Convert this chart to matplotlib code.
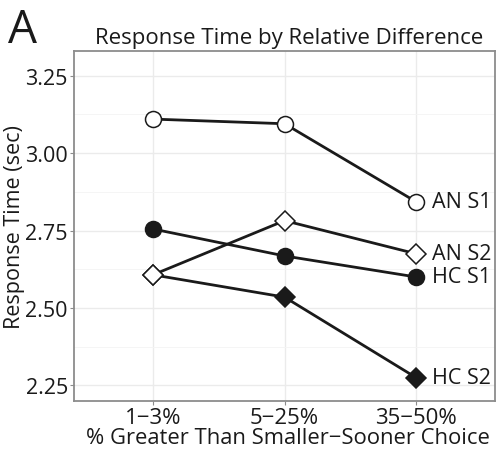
import matplotlib
matplotlib.use("Agg")
import matplotlib.pyplot as plt
from matplotlib.ticker import MultipleLocator

plt.rcParams['font.family'] = ['Open Sans', 'DejaVu Sans']

categories = ["1\u22123%", "5\u221225%", "35\u221250%"]
series_names = ["AN S1", "AN S2", "HC S1", "HC S2"]
an_s1 = [3.11, 3.095, 2.843]
an_s2 = [2.607, 2.782, 2.675]
hc_s1 = [2.755, 2.668, 2.600]
hc_s2 = [2.607, 2.535, 2.275]
y_ticks = [2.25, 2.50, 2.75, 3.00, 3.25]

fig = plt.figure(figsize=(4.97, 4.52), dpi=100)
ax = fig.add_axes([0.149, 0.111, 0.847, 0.774])

x = list(range(1, len(categories) + 1))
styles = {
    "AN S1": (an_s1, 'o', 'white', 6),
    "AN S2": (an_s2, 'D', 'white', 5),
    "HC S1": (hc_s1, 'o', '#1a1a1a', 4),
    "HC S2": (hc_s2, 'D', '#1a1a1a', 3),
}
for name in series_names:
    vals, m, fc, z = styles[name]
    ax.plot(x, vals, color='#1a1a1a', lw=2.0, marker=m,
            markersize=11.5 if m == 'o' else 10.5,
            markerfacecolor=fc, markeredgecolor='#1a1a1a', markeredgewidth=1.1, zorder=z)
    ax.annotate(name, (x[-1], vals[-1]), xytext=(11.5, 0), textcoords='offset points',
                va='center', ha='left', fontsize=15.5, color='#1a1a1a')

ax.set_xlim(0.4, 3.6)
ax.set_ylim(2.20, 3.33)
ax.set_xticks(x)
ax.set_xticklabels(categories, fontsize=16)
ax.set_yticks(y_ticks)
ax.set_yticklabels([f"{v:.2f}" for v in y_ticks], fontsize=15.5)
ax.yaxis.set_minor_locator(MultipleLocator(0.125))
ax.grid(True, which='major', color='#ebebeb', lw=1.0)
ax.grid(True, which='minor', color='#f4f4f4', lw=0.6)
ax.set_axisbelow(True)
for s in ax.spines.values():
    s.set_color('#8c8c8c')
    s.set_linewidth(1.3)
ax.tick_params(axis='both', which='major', colors='#8c8c8c',
               labelcolor='#1a1a1a', length=3, width=0.8, pad=1.5)
ax.tick_params(axis='both', which='minor', length=0)

ax.set_xlabel("% Greater Than Smaller\u2212Sooner Choice", fontsize=15.8, color='#1a1a1a', labelpad=-1)
ax.xaxis.label.set_x(0.508)
ax.set_ylabel("Response Time (sec)", fontsize=15.5, color='#1a1a1a', labelpad=0)
ax.set_title("Response Time by Relative Difference", fontsize=16, color='#1a1a1a', pad=6, x=0.51)
fig.text(0.016, 0.905, "A", fontsize=33, color='#1a1a1a', ha='left', va='baseline')

fig.savefig("out.png", dpi=100)
